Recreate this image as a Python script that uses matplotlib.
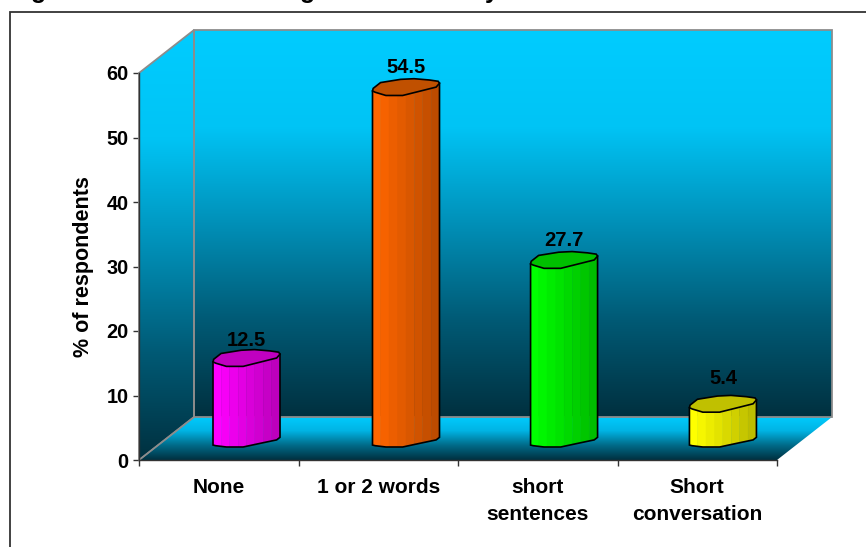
import numpy as np
import matplotlib
matplotlib.use("Agg")
import matplotlib.pyplot as plt
from matplotlib.patches import Polygon, Rectangle
from matplotlib.colors import LinearSegmentedColormap

plt.rcParams['font.family'] = ['Liberation Sans', 'DejaVu Sans']

categories = ['None', '1 or 2 words', 'short\nsentences', 'Short\nconversation']
values = [12.5, 54.5, 27.7, 5.4]
value_labels = ['12.5', '54.5', '27.7', '5.4']
bar_colors = ['#ff00ff', '#ff6600', '#00ff00', '#ffff00']
top_colors = ['#c000c0', '#c05000', '#00c000', '#c0c000']
y_ticks = [0, 10, 20, 30, 40, 50, 60]
# the title is cut off by the image edge, only these descenders can be read
title_glyphs = ['g', 'g', 'y']

W, H = 866, 547
# front plane of the 3d box, in pixels
left, right, base, top = 139, 777, 460, 73
depth_x = 55 / (right - left) * 4  # in x units
depth_y = 43 / (base - top) * 60   # in y units
floor_gap = 13 / (base - top) * 60

wall_cmap = LinearSegmentedColormap.from_list('wall', ['#00ccff', '#00c4f5', '#0090b8', '#005a75', '#00303f'])
floor_cmap = LinearSegmentedColormap.from_list('floor', ['#00ccff', '#00b4e4', '#006a88', '#003040'])


def gradient(ax, x0, x1, y0, y1, poly, cmap, zorder):
    # vertical gradient, first row at y1
    grad = np.linspace(0, 1, 256).reshape(-1, 1)
    im = ax.imshow(grad, extent=(x0, x1, y0, y1), cmap=cmap, aspect='auto', origin='upper', zorder=zorder)
    patch = Polygon(poly, closed=True, transform=ax.transData, fc='none', ec='none')
    ax.add_patch(patch)
    # images fall back to the axes box without an explicit clip box
    im.set_clip_box(ax.figure.bbox)
    im.set_clip_path(patch)
    patch.set_clip_on(False)


def shaded_colors(color, n):
    rgb = np.array(matplotlib.colors.to_rgb(color))
    return [rgb * f for f in np.linspace(1.0, 0.74, n)]


def draw_bar(ax, center, value, color, top_color):
    half = 33.5 / (right - left) * 4
    x0, x1 = center - half, center + half
    y0 = floor_gap
    y1 = value + floor_gap
    # lower edge bulges down, front of the lid has the same shape
    u = np.array([0, 0.04, 0.2, 0.45, 0.72, 0.95, 1.0])
    low = np.array([0.3, 0.2, 0.0, 0.0, 0.6, 1.1, 1.5])
    front = np.array([0.7, 0.5, 0.0, 0.0, 0.7, 1.3, 1.9])
    xs = x0 + u * (x1 - x0)
    low_y = y0 + low
    top_y = y1 + front
    n = 8
    edges = np.linspace(0, 1, n + 1)
    cols = shaded_colors(color, n)
    for i in range(n):
        ua = np.linspace(edges[i], edges[i + 1], 6)
        px = x0 + ua * (x1 - x0)
        py_low = np.interp(ua, u, low_y)
        py_top = np.interp(ua, u, top_y)
        verts = list(zip(px, py_low)) + list(zip(px[::-1], py_top[::-1]))
        ax.add_patch(Polygon(verts, closed=True, fc=cols[i], ec=cols[i], lw=0.3, zorder=5))
    # lid
    back_u = np.array([0.98, 0.85, 0.62, 0.42, 0.12, 0.01])
    back_v = np.array([2.2, 2.4, 2.6, 2.5, 2.0, 1.1])
    lid = list(zip(xs, top_y)) + list(zip(x0 + back_u * (x1 - x0), y1 + back_v))
    ax.add_patch(Polygon(lid, closed=True, fc=top_color, ec='black', lw=1.2, zorder=7))
    # outline
    out = list(zip(xs, low_y)) + [(x1, top_y[-1]), (x0, top_y[0])]
    ax.add_patch(Polygon(out, closed=True, fc='none', ec='black', lw=1.2, zorder=6))


fig = plt.figure(figsize=(W / 100, H / 100), dpi=100)
fig.patch.set_facecolor('white')
ax = fig.add_axes([left / W, 1 - base / H, (right - left) / W, (base - top) / H])
ax.patch.set_visible(False)
for s in ['top', 'right']:
    ax.spines[s].set_visible(False)
for s in ['left', 'bottom']:
    ax.spines[s].set_color('#333333')
    ax.spines[s].set_linewidth(1.0)
    ax.spines[s].set_zorder(9)

# back wall, side wall and floor
back = [(depth_x, depth_y), (4 + depth_x, depth_y), (4 + depth_x, 60 + depth_y), (depth_x, 60 + depth_y)]
side = [(0, 0), (depth_x, depth_y), (depth_x, 60 + depth_y), (0, 60)]
floor = [(0, 0), (4, 0), (4 + depth_x, depth_y), (depth_x, depth_y)]
gradient(ax, depth_x, 4 + depth_x, depth_y, 60 + depth_y, back, wall_cmap, 1)
gradient(ax, 0, depth_x, 0, 60 + depth_y, side, wall_cmap, 1)
gradient(ax, 0, 4 + depth_x, 0, depth_y, floor, floor_cmap, 2)
for poly in (back, side):
    ax.add_patch(Polygon(poly, closed=True, fc='none', ec='#8c8c8c', lw=1.3, zorder=3, clip_on=False))
ax.plot([0, depth_x], [0, depth_y], color='#8c8c8c', lw=1.0, zorder=3, clip_on=False)
ax.set_xlim(0, 4)
ax.set_ylim(0, 60)
ax.set_aspect('auto')

# bars and labels
centers = [0.674, 1.674, 2.665, 3.661]
label_lift = [3.1, 3.5, 3.5, 4.3]
for c, v, col, tcol, lab, lift in zip(centers, values, bar_colors, top_colors, value_labels, label_lift):
    draw_bar(ax, c, v, col, tcol)
    ax.text(c, v + floor_gap + lift, lab, ha='center', va='baseline', fontsize=14.5,
            fontweight='bold', color='black', zorder=8, clip_on=False)

# ticks and axis text
ax.set_yticks(y_ticks)
ax.set_yticklabels([str(t) for t in y_ticks], fontsize=14.3, fontweight='bold')
ax.set_xticks(range(5))
ax.set_xticklabels([])
ax.tick_params(axis='y', length=4.3, width=1, color='#333333', pad=3)
ax.tick_params(axis='x', length=4.3, width=1, color='#333333')
ax.set_ylabel('% of respondents', fontsize=15.5, fontweight='bold')
ax.yaxis.set_label_coords(-0.0706, 0.501)
label_x = [0.5, 1.5, 2.5, 3.5]
for x, cat in zip(label_x, categories):
    ax.annotate(cat, (x, 0), xytext=(0, -13), xycoords='data', textcoords='offset points',
                ha='center', va='top', fontsize=15, fontweight='bold', linespacing=1.55)

# chart frame, runs off right and bottom of the image
fig.add_artist(Rectangle((10 / W, -0.02), 1.0, 1 - 12 / H + 0.02, transform=fig.transFigure,
                         fc='none', ec='#333333', lw=1.3))
# title, only its descenders show at the top edge
for glyph, px in zip(title_glyphs, [39, 308, 492]):
    fig.text(px / W, 1 + 2 / H, glyph, ha='center', va='baseline', fontsize=18, fontweight='bold')

fig.savefig('out.png', dpi=100)
